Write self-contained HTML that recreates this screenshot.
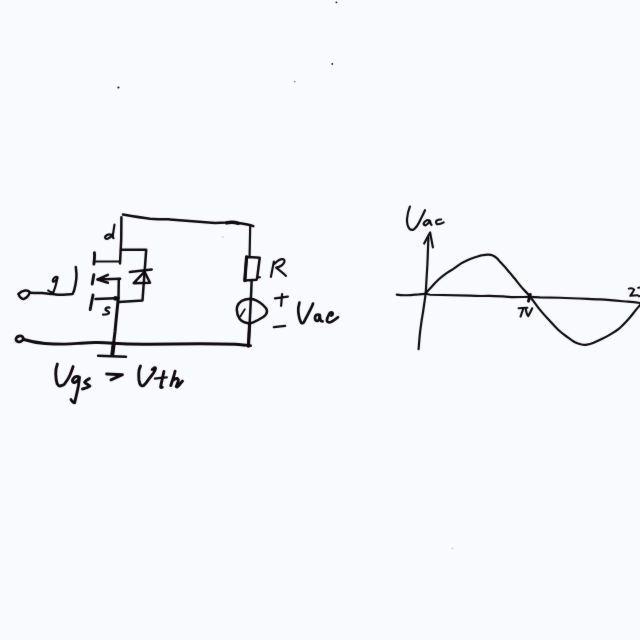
<!DOCTYPE html>
<html><head><meta charset="utf-8"><title>MOSFET diagram</title>
<style>
html,body{margin:0;padding:0;background:#f9fafd;}
body{width:640px;height:640px;overflow:hidden;font-family:"Liberation Sans",sans-serif;}
svg{display:block;}
</style></head>
<body>
<svg width="640" height="640" viewBox="0 0 640 640">
<defs><filter id="soft" x="0" y="0" width="640" height="640" filterUnits="userSpaceOnUse" color-interpolation-filters="sRGB"><feConvolveMatrix order="3" kernelMatrix="1 2 1 2 40 2 1 2 1" divisor="52" edgeMode="duplicate" preserveAlpha="false"/></filter></defs>
<rect width="640" height="640" fill="#f9fafd"/>
<g filter="url(#soft)">
<g fill="none" stroke="#0e0a10" stroke-width="2.5" stroke-linecap="round" stroke-linejoin="round">
  <!-- top wire -->
  <path d="M123,214.6 C132,216.2 142,217.9 150,218.7 C158,219.2 165,219.3 170,219.4 C185,220.6 205,222.1 215,222.9 L226.7,222.6 C232,222.2 236,222.6 238.4,223 C245,224 250,225 253.3,226.1"/>
  <path d="M226.5,222.9 C230,222 235,222.2 238.4,223.3" stroke-width="3.4"/>
  <!-- drain vertical -->
  <path d="M121.4,217.2 L121.2,240 L120,263.4"/>
  <!-- drain horizontal to channel -->
  <path d="M95.8,261.5 L119.8,261.5" stroke-width="2.1"/>
  <!-- diode branch -->
  <path d="M121,249.8 L146.2,249.8 L142.5,300.5 L119,302"/>
  <!-- diode -->
  <path d="M129.8,272 L151.7,269.5"/>
  <path d="M144.6,271.7 L133.7,283.2 L150,282.7 Z"/>
  <!-- channel segments -->
  <path d="M94.4,252.6 C94.8,256 94.4,260 93.9,264.1" stroke-width="2.9"/>
  <path d="M93.9,274.6 L92.2,284.1" stroke-width="2.9"/>
  <path d="M93,295 L90.2,309.5" stroke-width="2.9"/>
  <!-- arrow -->
  <path d="M97.6,279.5 L120.1,278.8"/>
  <path d="M107.9,274.9 L97.6,279.5 L107.9,282.8"/>
  <path d="M118.8,279 L118.5,298"/>
  <!-- source horizontal -->
  <path d="M95.5,299 L115.5,298.2"/>
  <circle cx="115.6" cy="298.4" r="1.2" fill="#0e0a10"/>
  <!-- main vertical from source to ground -->
  <path d="M118.3,298 L116.3,318 L115,331.7 L113.6,343.4 L112.2,354.4" stroke-width="3"/>
  <path d="M113.8,343 L112.4,354" stroke-width="4"/>
  <!-- ground -->
  <path d="M98.1,355.8 L126,356.8"/>
  <!-- bottom wire -->
  <path d="M23.8,339.5 C30,341.4 38,342.9 45,343.5 C52,344 58,344.1 64,344.1 C70,344 74,343.7 78,343.4 C85,343 90,342.7 95,342.5 C102,342.3 108,342.8 113,343.3 C125,344.1 140,344.3 150,344.2 C165,344 180,343.8 200,343.7 C215,343.7 228,344 235,344.3 C240,344.7 244,345.1 247.5,345.4 L250.6,345.6" stroke-width="2.9"/>
  <ellipse cx="19.6" cy="338.9" rx="3.7" ry="2.9" stroke-width="2.8" transform="rotate(-18 19.6 338.9)"/>
  <!-- right branch -->
  <path d="M250.2,226.8 L249.6,255.8" stroke-width="2.2"/>
  <path d="M246.6,256.9 L259.7,257.8 L257.2,277.5 L256.6,279.7 L244.8,280.6 Z"/>
  <path d="M246.6,256.9 L244.8,280.6" stroke-width="3.2"/>
  <path d="M257.2,277.5 L260,277.3" stroke-width="2"/>
  <path d="M251.6,281.2 L251.3,290 L250.3,310.6 L248.4,346.2"/>
  <path d="M249.6,324 L248.4,346" stroke-width="3.2"/>
  <path d="M250,298.8 C256,299.2 262,303.5 266,308.2 C267.8,311 267,314 263.6,316.8 C259,319.8 254,322.6 249.3,323.4 C245,323 241.5,321.5 239.6,318.8 C237.2,315 236.3,310.5 237.2,306.5 C238.6,302.5 243.5,299.3 250,298.8 Z"/>
  <path d="M240.3,316.5 L244.8,309.3" stroke-width="1.8"/>
  <!-- gate -->
  <path d="M29.8,292.4 C28,289.5 22.5,290 18.4,294 C19.5,297 22,299.2 24,298.9 C27,297.8 29,295 29.8,292.4 Z"/>
  <path d="M29.8,292.6 C34,292.8 38,293 42,293 C45,293.2 47,293.5 49.1,293.7 C52,294 55,294.5 58,294.7 C63,294.7 68,294.3 72.6,294 C74,291.5 74.8,288.5 75.4,285 C76.2,281 76.6,277 76.5,274 L75.8,267"/>
</g>
<!-- letters -->
<g fill="none" stroke="#0e0a10" stroke-width="2.2" stroke-linecap="round" stroke-linejoin="round">
  <!-- d -->
  <path d="M114.5,224.6 C114,228 113.2,232 112.9,235.5 C112.8,237 113.1,237.8 113.5,238.2"/>
  <path d="M112.6,235 C110.2,233.9 107.2,234.3 105.4,236.3 C104.4,238 105.6,239.3 107.7,238.8 C109.8,238 111.4,236.5 112.6,235"/>
  <!-- g -->
  <path d="M57.6,277.2 C55.5,276 52.5,278.5 52.8,281.3 C53.8,282.6 56,281 57.6,277.5 C56.5,283 55.2,288 53.4,292.3 C51.5,292.6 49.8,291.8 48.2,290.5"/>
  <!-- s -->
  <path d="M109.5,307.6 C107,307 104.8,308.3 105.6,310 C107,311 109.5,311.6 109,313.2 C108,314.6 105,314.6 103,314.6"/>
  <!-- R -->
  <path d="M273.9,261.5 L270.9,276.9"/>
  <path d="M274.6,263.8 C277,261.3 279,259.5 281.5,259.1 C284,258.8 285,260 284.3,262.3 C283,265 280,267 276.1,267.7 C279,270 283,273 285.9,275.9"/>
  <!-- + -->
  <path d="M274.9,298.3 L287.9,296.6 M282.1,294.2 L281.1,305.9"/>
  <!-- - -->
  <path d="M273.8,327.2 L285.2,325.8"/>
  <!-- Vac -->
  <g stroke-width="2.7">
  <path d="M299.4,302.6 C298.5,306 298,309 298.3,311.6 C298.7,316 299.6,320 301.2,322.8 C302.5,323.6 303.5,323 304.2,321.6 C306.5,317 308.8,312.8 310.6,309.2 C311.9,306.6 312.7,305 313,303.6"/>
  <path d="M319.7,314.8 C317.5,314.3 315.5,315 315,317 C314.8,319.5 315.5,321.2 317.6,321 C319,320.4 319.5,318 319.8,315 C319.9,318 320.3,320 321,321 L322.6,321.4"/>
  <path d="M331.2,315.6 C332.8,314.8 333.2,313.2 332.2,312.5 C330.8,312 329.5,313 329,314.3 C327.8,316.4 326.7,318.8 326.9,320.8 C327.4,322.4 329,322.7 331,322 C333.5,320.8 336,319 338,317.3"/>
  </g>
  <!-- Ugs -->
  <g stroke-width="2.9">
  <path d="M57.4,364 C56.2,367 55.6,371 55.75,374 C55.8,378 56.3,381.5 57.2,383.9 C58,385.5 59,386 60,386 C62,385.8 63.2,385.2 64.2,384.4 C66.5,381.5 68.5,378.5 69.8,375.5 C71.3,372 72.3,369 73.1,366.6"/>
  <path d="M79.5,377.2 C78,376.2 76.6,376.3 75.8,376.6 C74,377.6 72.6,379.3 72.4,381 C72.8,382.6 74,382.9 75,382.4 C77,381.5 78.5,379.5 79.5,377.3 C79.2,380 78.8,383 78.5,385.3 C77.5,391 76,397 74.6,402.8 C73,402.8 71.8,401 71,399.6"/>
  <path d="M89.4,378.6 C87.5,379.5 85.5,380.5 84.6,382.1 C85.5,383.5 88.5,384.6 89.9,386.1 C88,387.5 85,388.5 82.5,389"/>
  <!-- > -->
  <path d="M106.6,374 L122.5,374.7 L111,379.8"/>
  <!-- Vth -->
  <path d="M140.5,366 C139.3,368.5 138.7,371 138.75,373 C138.7,376 138.8,378 139,380 C139.4,383 140.2,385 141.3,385.6 C142,385.9 142.8,385.9 143.5,385.7 C145.5,384 147,382 148.5,379.5 C150.3,377.5 152,375 153.5,373 C154.5,371.5 155.3,370 155.5,368.5 C155.5,367.3 154.5,367.3 152.2,369.5"/>
  <path d="M163.9,371.5 C163,376 161.5,382 160.6,386.8 C160.8,387.6 161.5,387.6 162.3,387.2"/>
  <path d="M154.9,378.6 C158,378.2 163,377.7 166.9,377.4" stroke-width="2.1"/>
  <path d="M175.1,371.2 C174,376 172,381.5 170.8,385.6 M173.4,380.2 C174.5,378.8 176,378.3 177.2,378.5 C178.4,378.9 178.6,380.5 178,382 C177.4,383.8 176.4,385.6 176.2,386.6 C176.5,387.4 177.6,387 178.7,385.6 C180,384 181.4,382.3 182.5,381"/>
  </g>
</g>
<!-- graph -->
<g fill="none" stroke="#0e0a10" stroke-width="2.2" stroke-linecap="round" stroke-linejoin="round">
  <!-- x axis -->
  <path d="M396.8,294.6 C400,295.2 404,295.3 406.5,295.25 C412,295 416,294.5 419,294.3 C421,294 423,293.8 425.2,293.8 C427,294.2 429,294.6 430,294.75 C445,295.2 460,295.5 470,295.7 C478,296.2 485,296 490,295.9 C500,296.3 508,296.8 514,297.1 C520,297.1 525,296.9 529,296.9 C534,296.9 537,297.1 540,297.3 C548,297.5 555,297.6 560,297.75 C575,298.5 588,298.9 600,299.4 C612,300.2 620,301 628,301.7 C634,302.2 637,302.6 640,303"/>
  <!-- y axis -->
  <path d="M428.4,237.5 C428.2,245 427.8,255 427.4,264 C426.8,275 426.2,284 425.9,290 C425.5,296 424.8,300 424.2,304 C423.4,310 422.6,315 421.9,318.75 C421,325 420.4,329 420,332.8 C419.4,338 419,344 418.6,349.2"/>
  <path d="M424.2,243.5 C426,240 428,236 430.1,232.5 L432.9,247.4"/>
  <!-- sine -->
  <path d="M425.4,293.6 C426.2,292.8 427.9,290.8 430.0,288.6 C432.1,286.4 435.2,282.6 437.8,280.2 C440.4,277.8 443.0,275.8 445.6,273.9 C448.2,272.0 450.8,270.6 453.4,268.8 C456.0,267.1 458.6,265.0 461.2,263.4 C463.9,261.8 466.4,260.6 469.0,259.4 C471.6,258.3 474.6,257.4 476.9,256.7 C479.2,256.0 480.9,255.5 482.8,255.2 C484.7,254.8 486.8,254.5 488.5,254.6 C490.2,254.7 491.4,254.9 492.8,255.5 C494.2,256.1 495.4,257.0 496.8,258.2 C498.2,259.4 499.4,261.1 501.0,262.8 C502.6,264.5 504.1,265.9 506.2,268.4 C508.4,270.9 511.4,274.6 514.0,277.8 C516.6,281.0 519.3,284.5 521.9,287.6 C524.5,290.7 526.9,292.6 529.8,296.2 C532.7,299.8 536.2,305.2 539.4,309.1 C542.6,313.0 545.6,316.4 548.8,319.8 C551.9,323.2 555.0,326.8 558.1,329.7 C561.2,332.6 564.7,335.1 567.5,337.2 C570.3,339.3 572.7,341.1 575.0,342.3 C577.3,343.5 579.5,344.1 581.5,344.5 C583.5,344.9 585.0,344.9 587.0,344.6 C589.0,344.3 591.1,343.7 593.6,342.7 C596.1,341.7 599.3,340.2 602.2,338.8 C605.1,337.4 607.9,335.9 610.8,334.1 C613.7,332.4 616.4,330.8 619.4,328.3 C622.4,325.8 625.9,321.9 628.6,319.0 C631.3,316.1 633.5,312.9 635.4,310.6 C637.3,308.3 638.7,306.6 640.0,305.2 C641.3,303.8 642.5,302.5 643.0,302.0"/>
  <!-- pi tick -->
  <path d="M530.3,294.5 L528.5,301.1" stroke-width="3"/>
</g>
<g fill="none" stroke="#0e0a10" stroke-width="2.2" stroke-linecap="round" stroke-linejoin="round">
  <!-- Uac -->
  <path d="M409.9,206.6 C408.5,210 407.3,215 407,219 C406.8,223 407.8,227 409.9,229.2 C411,229.8 412.3,229.9 413.5,229.6 C416,228 418.5,224 420.5,219.5 C422.3,216 424,212.5 425,210.2"/>
  <path d="M430,221 C428.5,220 427.5,220 426.8,220.3 C425,221.2 423.8,222.6 423.6,223.8 C423.8,225 425,225.5 425.7,225.3 C427.5,224.5 429,222.7 430,221 C430.2,222.5 430.5,224 431.5,224.9"/>
  <path d="M441.2,219.5 C439.5,219.4 437.8,219.8 436.5,220.6 C435.8,221.8 436,223.5 437.2,224.2 C439.5,224.4 441.8,223.5 443.7,222.4"/>
  <!-- pi -->
  <path d="M518.6,308.2 C521,308 524,307.9 527.4,307.8" stroke-width="2"/>
  <path d="M523.4,308.3 L520.5,316.6" stroke-width="2.1"/>
  <path d="M525.8,309 C526.2,312 527,315 528.3,316.1 C529.8,313.5 531.2,310.5 532.2,308.3" stroke-width="2.1"/>
  <!-- 2 -->
  <path d="M628.8,288.6 C630.5,288 633,288.3 634.2,289.6 C633.5,291.5 631.5,293.8 630.2,295.8 C632.5,295.5 635,295.3 637.8,295.2" stroke-width="2"/>
  <path d="M638.2,287.8 C639,287.4 640,287.3 641,287.5 M638.8,296.2 L641,296" stroke-width="2"/>
</g>
<!-- stray dots -->
<g fill="#0e0a10">
  <circle cx="118.4" cy="87.5" r="1.1"/>
  <circle cx="336.4" cy="2.3" r="0.9"/>
  <circle cx="332.3" cy="63.9" r="0.9"/>
  <circle cx="452.5" cy="548.5" r="0.8" fill="#c0c0c8"/>
  <circle cx="222.8" cy="237" r="0.8" fill="#c0c0c8"/>
  <circle cx="294.7" cy="81.6" r="0.8" fill="#707078"/>
</g>
</g>
</svg>
</body></html>
